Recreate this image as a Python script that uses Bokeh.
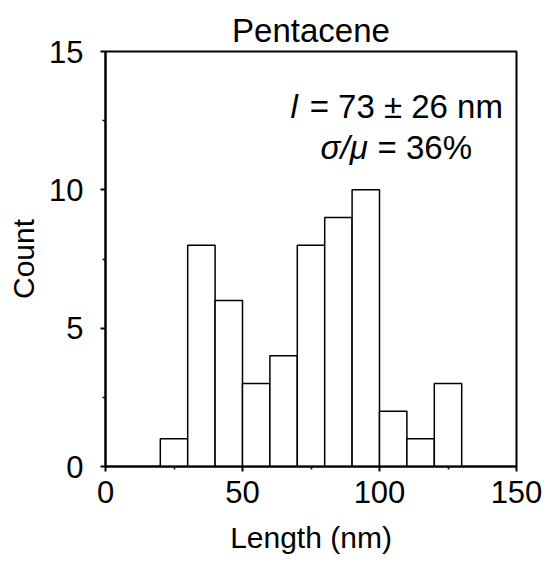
from bokeh.plotting import figure
from bokeh.models import Range1d, Label, FixedTicker
from bokeh.embed import file_html
from bokeh.resources import INLINE

# Histogram data (bin edges in nm, counts)
bin_left = [20, 30, 40, 50, 60, 70, 80, 90, 100, 110, 120]
bin_right = [30, 40, 50, 60, 70, 80, 90, 100, 110, 120, 130]
counts = [1, 8, 6, 3, 4, 8, 9, 10, 2, 1, 3]

x_ticks = [0, 50, 100, 150]
y_ticks = [0, 5, 10, 15]

FONT = "Liberation Sans"

p = figure(width=552, height=562, output_backend="svg", toolbar_location=None,
           x_range=Range1d(0, 150), y_range=Range1d(0, 15),
           title="Pentacene",
           min_border_left=105, min_border_right=36,
           min_border_top=51, min_border_bottom=96)

p.quad(left=bin_left, right=bin_right, top=counts, bottom=0,
       fill_color="white", line_color="black", line_width=1.5)

p.grid.visible = False
p.outline_line_color = "black"
p.outline_line_width = 2
p.background_fill_color = "white"
p.border_fill_color = "white"

p.title.align = "center"
p.title.text_font = FONT
p.title.text_font_size = "33px"
p.title.text_font_style = "normal"
p.title.text_color = "black"
p.title.standoff = 6

p.xaxis.ticker = FixedTicker(ticks=x_ticks, minor_ticks=[25, 75, 125])
p.yaxis.ticker = FixedTicker(ticks=y_ticks, minor_ticks=[2.5, 7.5, 12.5])

for ax in (p.xaxis[0], p.yaxis[0]):
    ax.axis_line_color = "black"
    ax.axis_line_width = 2
    ax.major_tick_line_color = "black"
    ax.major_tick_line_width = 2
    ax.minor_tick_line_color = "black"
    ax.minor_tick_line_width = 1.5
    ax.major_tick_in = 0
    ax.major_tick_out = 5
    ax.minor_tick_in = 0
    ax.minor_tick_out = 3
    ax.major_label_text_font = FONT
    ax.major_label_text_font_size = "31px"
    ax.major_label_text_color = "black"
    ax.axis_label_text_font = FONT
    ax.axis_label_text_font_size = "30px"
    ax.axis_label_text_font_style = "normal"
    ax.axis_label_text_color = "black"

p.xaxis.axis_label = "Length (nm)"
p.yaxis.axis_label = "Count"
p.xaxis.major_label_standoff = 9
p.xaxis.axis_label_standoff = 15
p.yaxis.major_label_standoff = 17
p.yaxis.axis_label_standoff = 6

ann = dict(text_font=FONT, text_font_size="33px", text_color="black",
           text_baseline="alphabetic", text_align="left")
p.add_layout(Label(x=67.5, y=13.0, text="l", text_font_style="italic", **ann))
p.add_layout(Label(x=74.5, y=13.0, text="= 73 ± 26 nm", **ann))
p.add_layout(Label(x=78.5, y=11.53, text="σ/μ", text_font_style="italic", **ann))
p.add_layout(Label(x=99.3, y=11.53, text="= 36%", **ann))

open("out.html", "w").write(file_html(p, INLINE))
